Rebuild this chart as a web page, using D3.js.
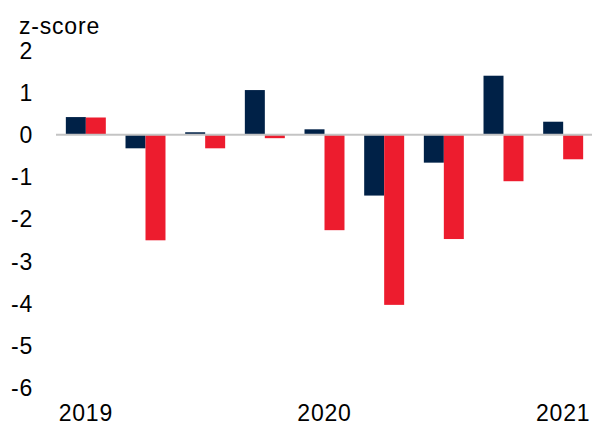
<!DOCTYPE html>
<html>
<head>
<meta charset="utf-8">
<script src="https://cdn.jsdelivr.net/npm/d3@7"></script>
<style>
  body { margin: 0; background: #fff; }
  text { font-family: "Liberation Sans", Arial, sans-serif; fill: #000; font-size: 23px; letter-spacing: 0.8px; }
</style>
</head>
<body>
<script>
let width = 592;
let height = 426;

// quarters 2019Q1 .. 2021Q1
let quarters = ["2019Q1", "2019Q2", "2019Q3", "2019Q4", "2020Q1", "2020Q2", "2020Q3", "2020Q4", "2021Q1"];
let seriesA = [0.42, -0.32, 0.06, 1.06, 0.13, -1.44, -0.66, 1.40, 0.31];
let seriesB = [0.41, -2.50, -0.32, -0.08, -2.26, -4.03, -2.47, -1.10, -0.58];
let yTicks = [2, 1, 0, -1, -2, -3, -4, -5, -6];
let yearLabels = [
  { q: "2019Q1", label: "2019" },
  { q: "2020Q1", label: "2020" },
  { q: "2021Q1", label: "2021" }
];

let navy = "#002147";
let red = "#ED1C2E";

let svg = d3.select("body").append("svg")
  .attr("width", width)
  .attr("height", height);

let x = d3.scaleBand().domain(quarters).range([56, 593])
  .paddingInner(0.33)
  .paddingOuter(0.165);
let sub = d3.scaleBand().domain(["a", "b"]).range([0, x.bandwidth()]);
let y = d3.scaleLinear().domain([-6, 2]).range([388, 50.4]);

// y tick labels
svg.append("g")
  .selectAll("text")
  .data(yTicks)
  .enter()
  .append("text")
  .attr("x", 33)
  .attr("y", (d) => y(d))
  .attr("dy", "0.36em")
  .attr("text-anchor", "end")
  .text((d) => d);

svg.append("text")
  .attr("x", 19)
  .attr("y", 34)
  .text("z-score");

// bars
let rows = quarters.map((q, i) => ({ q, a: seriesA[i], b: seriesB[i] }));
let groups = svg.append("g")
  .selectAll("g")
  .data(rows)
  .enter()
  .append("g")
  .attr("transform", (d) => `translate(${x(d.q)},0)`);

groups.append("rect")
  .attr("x", sub("a"))
  .attr("width", sub.bandwidth())
  .attr("y", (d) => y(Math.max(0, d.a)))
  .attr("height", (d) => Math.abs(y(d.a) - y(0)))
  .attr("fill", navy);

groups.append("rect")
  .attr("x", sub("b"))
  .attr("width", sub.bandwidth())
  .attr("y", (d) => y(Math.max(0, d.b)))
  .attr("height", (d) => Math.abs(y(d.b) - y(0)))
  .attr("fill", red);

// zero line
svg.append("line")
  .attr("x1", 56)
  .attr("x2", 593)
  .attr("y1", y(0))
  .attr("y2", y(0))
  .attr("stroke", "#c4c4c4")
  .attr("stroke-width", 2);

// year labels
svg.append("g")
  .selectAll("text")
  .data(yearLabels)
  .enter()
  .append("text")
  .attr("x", (d) => x(d.q) + x.bandwidth() / 2)
  .attr("y", 421)
  .attr("text-anchor", "middle")
  .text((d) => d.label);
</script>
</body>
</html>
